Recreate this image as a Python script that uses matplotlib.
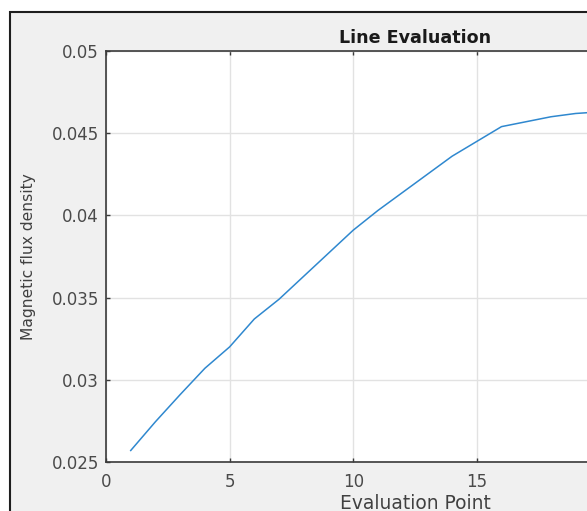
import matplotlib
matplotlib.use("Agg")
import matplotlib.pyplot as plt
from matplotlib.patches import Rectangle
from matplotlib.ticker import FuncFormatter

# Evaluation points and flux values
eval_points = [1, 2, 3, 4, 5, 6, 7, 8, 9, 10,
               11, 12, 13, 14, 15, 16, 17, 18, 19, 20]
flux_density = [0.0257, 0.02745, 0.0291, 0.0307, 0.0320, 0.0337, 0.0349, 0.0363, 0.0377, 0.0391,
                0.0403, 0.0414, 0.0425, 0.0436, 0.0445, 0.0454, 0.0457, 0.0460, 0.0462, 0.0463]

x_ticks = [0, 5, 10, 15, 20, 25]
x_tick_labels = ['0', '5', '10', '15', '', '']   # 20 and 25 fall outside the crop
y_ticks = [0.025, 0.03, 0.035, 0.04, 0.045, 0.05]

W, H = 587, 511
fig = plt.figure(figsize=(W / 100, H / 100), dpi=100, facecolor='white')

# MATLAB-style grey window panel with dark frame (cropped on the right / bottom)
panel = Rectangle((10 / W, -0.1), 1.2, (H - 12) / H + 0.1, transform=fig.transFigure,
                  facecolor='#f0f0f0', edgecolor='#1e1e1e', linewidth=1.5, zorder=0)
fig.add_artist(panel)

# axes box: left 106px, top 51px, bottom 462px, right beyond the crop (x=25)
ax_left, ax_right, ax_top, ax_bottom = 106, 724, 51, 462
ax = fig.add_axes([ax_left / W, (H - ax_bottom) / H,
                   (ax_right - ax_left) / W, (ax_bottom - ax_top) / H])
ax.set_facecolor('white')

ax.plot(eval_points, flux_density, color='#2f88cf', linewidth=1.1)

ax.set_xlim(0, 25)
ax.set_ylim(0.025, 0.05)
ax.set_xticks(x_ticks)
ax.set_xticklabels(x_tick_labels)
ax.set_yticks(y_ticks)
ax.yaxis.set_major_formatter(FuncFormatter(lambda v, p: f"{v:g}"))

ax.grid(True, color='#e2e2e2', linewidth=1.0)
ax.set_axisbelow(True)

for side in ['left', 'bottom', 'top', 'right']:
    ax.spines[side].set_color('#3a3a3a')
    ax.spines[side].set_linewidth(1.2)

ax.tick_params(axis='both', direction='in', length=3, width=1, color='#3a3a3a',
               labelcolor='#4a4a4a', labelsize=12, top=True, right=True)
ax.tick_params(axis='x', pad=8)
ax.tick_params(axis='y', pad=5)

ax.set_title('Line Evaluation', fontsize=12.6, fontweight='bold', color='#1a1a1a', pad=6)

ax.set_xlabel('Evaluation Point', fontsize=13.4, color='#404040', va='baseline')
ax.xaxis.set_label_coords(0.5, (ax_bottom - 509) / (ax_bottom - ax_top))

ax.set_ylabel('Magnetic flux density', fontsize=11.2, color='#404040', va='center')
ax.yaxis.set_label_coords((28 - ax_left) / (ax_right - ax_left), 0.5)

fig.savefig('out.png', dpi=100, facecolor=fig.get_facecolor())
